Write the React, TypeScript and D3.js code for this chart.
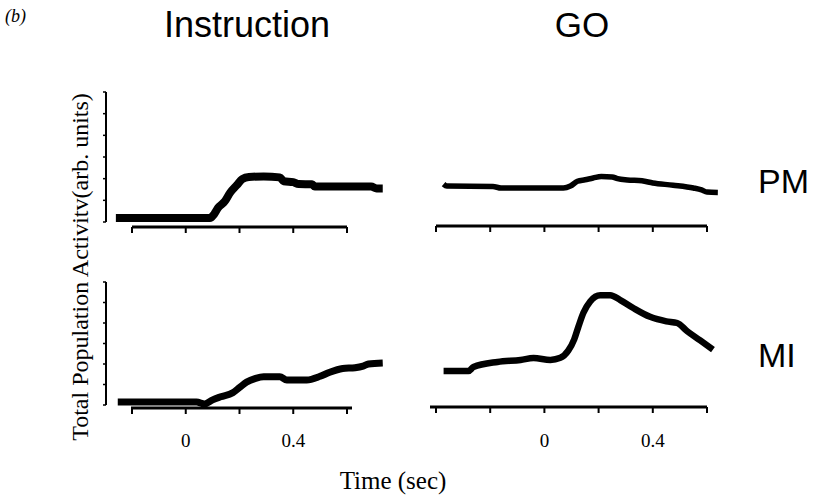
import React from "react";
import * as d3 from "d3";

const W = 823;
const H = 498;

// Time ticks (sec)
const leftTicks = [-0.2, 0, 0.2, 0.4, 0.6];
const rightTicks = [-0.4, -0.2, 0, 0.2, 0.4, 0.6];
const tickLabels = [0, 0.4];
const yTicks = [0, 1, 2, 3, 4, 5, 6];

// Series: [time (s), activity (arb. units)]
const instructionPM: [number, number][] = [
  [-0.26, 0.18], [0.09, 0.18], [0.105, 0.35], [0.12, 0.65], [0.145, 0.95], [0.165, 1.35],
  [0.19, 1.7], [0.21, 1.98], [0.235, 2.08], [0.29, 2.1], [0.35, 2.06], [0.365, 1.88],
  [0.4, 1.84], [0.42, 1.75], [0.47, 1.74], [0.48, 1.64], [0.69, 1.64], [0.71, 1.55], [0.733, 1.55],
];
const instructionMI: [number, number][] = [
  [-0.253, 0.15], [0.04, 0.15], [0.07, 0.05], [0.1, 0.25], [0.13, 0.4], [0.175, 0.6],
  [0.2, 0.85], [0.227, 1.12], [0.26, 1.3], [0.29, 1.38], [0.35, 1.38], [0.376, 1.22],
  [0.45, 1.22], [0.5, 1.4], [0.536, 1.6], [0.584, 1.78], [0.63, 1.82], [0.66, 1.9],
  [0.68, 2.0], [0.733, 2.05],
];
const goPM: [number, number][] = [
  [-0.372, 1.75], [-0.36, 1.66], [-0.19, 1.64], [-0.16, 1.57], [0.07, 1.57], [0.096, 1.66],
  [0.122, 1.88], [0.15, 1.95], [0.18, 2.03], [0.21, 2.1], [0.25, 2.08], [0.27, 2.0],
  [0.306, 1.94], [0.36, 1.9], [0.4, 1.8], [0.475, 1.7], [0.55, 1.57], [0.58, 1.48],
  [0.6, 1.38], [0.64, 1.36],
];
const goMI: [number, number][] = [
  [-0.372, 1.66], [-0.28, 1.66], [-0.262, 1.85], [-0.173, 2.1], [-0.088, 2.2], [-0.04, 2.29],
  [0.022, 2.2], [0.059, 2.3], [0.088, 2.65], [0.11, 3.2], [0.125, 3.8], [0.144, 4.5],
  [0.169, 5.05], [0.206, 5.35], [0.243, 5.35], [0.28, 5.12], [0.328, 4.73], [0.39, 4.3],
  [0.45, 4.08], [0.49, 4.0], [0.527, 3.6], [0.575, 3.15], [0.622, 2.7],
];

const xLeft = d3.scaleLinear().domain([-0.2, 0.6]).range([132, 347]);
const xRight = d3.scaleLinear().domain([-0.4, 0.6]).range([436, 707]);
const yTop = d3.scaleLinear().domain([0, 6]).range([222, 92]);
const yBottom = d3.scaleLinear().domain([0, 6]).range([405, 282]);

const sans = "'Liberation Sans', Arial, sans-serif";
const serif = "'Liberation Serif', 'Times New Roman', serif";

function Trace({ data, x, y, w }: { data: [number, number][]; x: any; y: any; w: number }) {
  const line = d3
    .line<[number, number]>()
    .x((d) => x(d[0]))
    .y((d) => y(d[1]))
    .curve(d3.curveMonotoneX);
  return <path d={line(data) || ""} fill="none" stroke="#000" strokeWidth={w} strokeLinejoin="round" strokeLinecap="butt" />;
}

function XAxis({ x, ticks, y, extra }: { x: any; ticks: number[]; y: number; extra: [number, number] }) {
  const [a, b] = x.range();
  return (
    <g>
      <line x1={a - extra[0]} x2={b + extra[1]} y1={y} y2={y} stroke="#000" strokeWidth={3} />
      {ticks.map((t) => (
        <line key={t} x1={x(t)} x2={x(t)} y1={y} y2={y + 6} stroke="#000" strokeWidth={2} />
      ))}
    </g>
  );
}

function YAxis({ y, xPos }: { y: any; xPos: number }) {
  const [b, a] = y.range();
  return (
    <g>
      <line x1={xPos} x2={xPos} y1={a} y2={b} stroke="#000" strokeWidth={2} />
      {yTicks.map((t) => (
        <line key={t} x1={xPos - 3} x2={xPos} y1={y(t)} y2={y(t)} stroke="#000" strokeWidth={1.5} />
      ))}
    </g>
  );
}

export default function App() {
  return (
    <svg width={W} height={H} style={{ position: "absolute", left: 0, top: 0, background: "#fff" }}>
      <rect width={W} height={H} fill="#fff" />
      <text x={5} y={22} fontFamily={serif} fontStyle="italic" fontSize={18}>(b)</text>
      <text x={247} y={37} textAnchor="middle" fontFamily={sans} fontSize={36}>Instruction</text>
      <text x={582} y={37} textAnchor="middle" fontFamily={sans} fontSize={35}>GO</text>
      <text x={758} y={193} fontFamily={sans} fontSize={34}>PM</text>
      <text x={758} y={367} fontFamily={sans} fontSize={34}>MI</text>

      <text
        transform={`translate(88,267) rotate(-90)`}
        textAnchor="middle"
        fontFamily={serif}
        fontSize={24}
      >
        Total Population Activitv(arb. units)
      </text>

      {/* Instruction panels */}
      <YAxis y={yTop} xPos={106} />
      <XAxis x={xLeft} ticks={leftTicks} y={227} extra={[0, 0]} />
      <Trace data={instructionPM} x={xLeft} y={yTop} w={8} />

      <YAxis y={yBottom} xPos={106} />
      <XAxis x={xLeft} ticks={leftTicks} y={408} extra={[1, 5]} />
      <Trace data={instructionMI} x={xLeft} y={yBottom} w={7} />

      {/* GO panels */}
      <XAxis x={xRight} ticks={rightTicks} y={226} extra={[0, 0]} />
      <Trace data={goPM} x={xRight} y={yTop} w={5.5} />

      <XAxis x={xRight} ticks={rightTicks} y={407} extra={[6, 0]} />
      <Trace data={goMI} x={xRight} y={yBottom} w={6.5} />

      {tickLabels.map((t) => (
        <text key={"l" + t} x={xLeft(t)} y={447} textAnchor="middle" fontFamily={serif} fontSize={19}>
          {String(t)}
        </text>
      ))}
      {tickLabels.map((t) => (
        <text key={"r" + t} x={xRight(t)} y={447} textAnchor="middle" fontFamily={serif} fontSize={19}>
          {String(t)}
        </text>
      ))}
      <text x={393} y={489} textAnchor="middle" fontFamily={serif} fontSize={25}>Time (sec)</text>
    </svg>
  );
}
